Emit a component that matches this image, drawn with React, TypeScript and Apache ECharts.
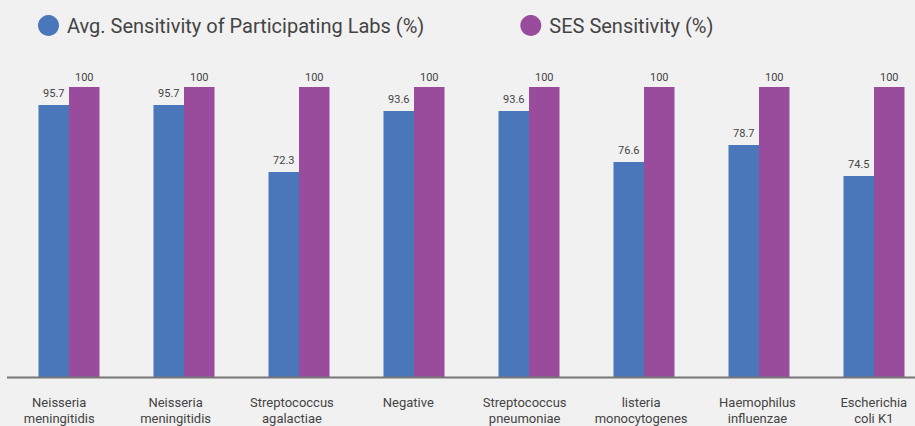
import React, { useEffect, useRef } from "react";
import * as echarts from "echarts";

const categories = [
  "Neisseria\nmeningitidis",
  "Neisseria\nmeningitidis",
  "Streptococcus\nagalactiae",
  "Negative",
  "Streptococcus\npneumoniae",
  "listeria\nmonocytogenes",
  "Haemophilus\ninfluenzae",
  "Escherichia\ncoli K1",
];
// bar heights as drawn in the reference
const avgLabsBars = [93.8, 93.8, 70.7, 91.7, 91.7, 74.1, 80.0, 69.3];
// values printed above the bars
const avgLabsLabels = ["95.7", "95.7", "72.3", "93.6", "93.6", "76.6", "78.7", "74.5"];
const sesBars = [100, 100, 100, 100, 100, 100, 100, 100];
const sesLabels = ["100", "100", "100", "100", "100", "100", "100", "100"];

const BLUE = "#4a76ba";
const PURPLE = "#994c9c";
const TEXT = "#444444";
const FONT = "Roboto";

export default function App() {
  const ref = useRef<HTMLDivElement>(null);
  useEffect(() => {
    document.body.style.margin = "0";
    document.body.style.overflow = "hidden";
    const chart = echarts.init(ref.current!, null, { renderer: "svg" });
    chart.setOption({
      animation: false,
      backgroundColor: "#f1f1f1",
      textStyle: { fontFamily: FONT },
      legend: {
        left: 33,
        top: 10,
        itemWidth: 21,
        itemHeight: 21,
        itemGap: 96,
        icon: "circle",
        textStyle: { fontSize: 20, color: TEXT, fontFamily: FONT, padding: [0, 0, 0, 3] },
        data: ["Avg. Sensitivity of Participating Labs (%)", "SES Sensitivity (%)"],
      },
      grid: [
        { left: 11.5, top: 87, bottom: 49, width: 920 },
        { left: 1, top: 87, bottom: 49, width: 931 },
      ],
      xAxis: [
        {
          type: "category",
          gridIndex: 0,
          data: categories,
          axisTick: { show: false },
          axisLine: { show: false },
          axisLabel: { show: false },
        },
        {
          type: "category",
          gridIndex: 1,
          data: categories,
          axisTick: { show: false },
          axisLine: { show: false },
          axisLabel: {
            interval: 0,
            margin: 17,
            fontSize: 13,
            lineHeight: 16,
            color: TEXT,
            fontFamily: FONT,
          },
        },
      ],
      yAxis: [
        { type: "value", gridIndex: 0, min: 0, max: 100, show: false, splitLine: { show: false } },
        { type: "value", gridIndex: 1, min: 0, max: 100, show: false, splitLine: { show: false } },
      ],
      series: [
        {
          name: "Avg. Sensitivity of Participating Labs (%)",
          type: "bar",
          data: avgLabsBars,
          barWidth: 30.5,
          barGap: "0%",
          itemStyle: { color: BLUE },
          label: {
            show: true,
            position: "top",
            distance: 6,
            fontSize: 11,
            color: TEXT,
            fontFamily: FONT,
            formatter: (p: any) => avgLabsLabels[p.dataIndex],
          },
        },
        {
          name: "SES Sensitivity (%)",
          type: "bar",
          data: sesBars,
          barWidth: 30.5,
          barGap: "0%",
          itemStyle: { color: PURPLE },
          label: {
            show: true,
            position: "top",
            distance: 4,
            fontSize: 11,
            color: TEXT,
            fontFamily: FONT,
            formatter: (p: any) => sesLabels[p.dataIndex],
          },
        },
      ],
      graphic: [
        {
          type: "line",
          z: 100,
          shape: { x1: 7, y1: 377.5, x2: 940, y2: 377.5 },
          style: { stroke: "#777777", lineWidth: 2 },
        },
      ],
    });
    return () => chart.dispose();
  }, []);
  return (
    <div style={{ position: "fixed", left: 0, top: 0, width: 915, height: 426, overflow: "hidden", background: "#f1f1f1" }}>
      <div ref={ref} style={{ width: 940, height: 426 }} />
    </div>
  );
}
